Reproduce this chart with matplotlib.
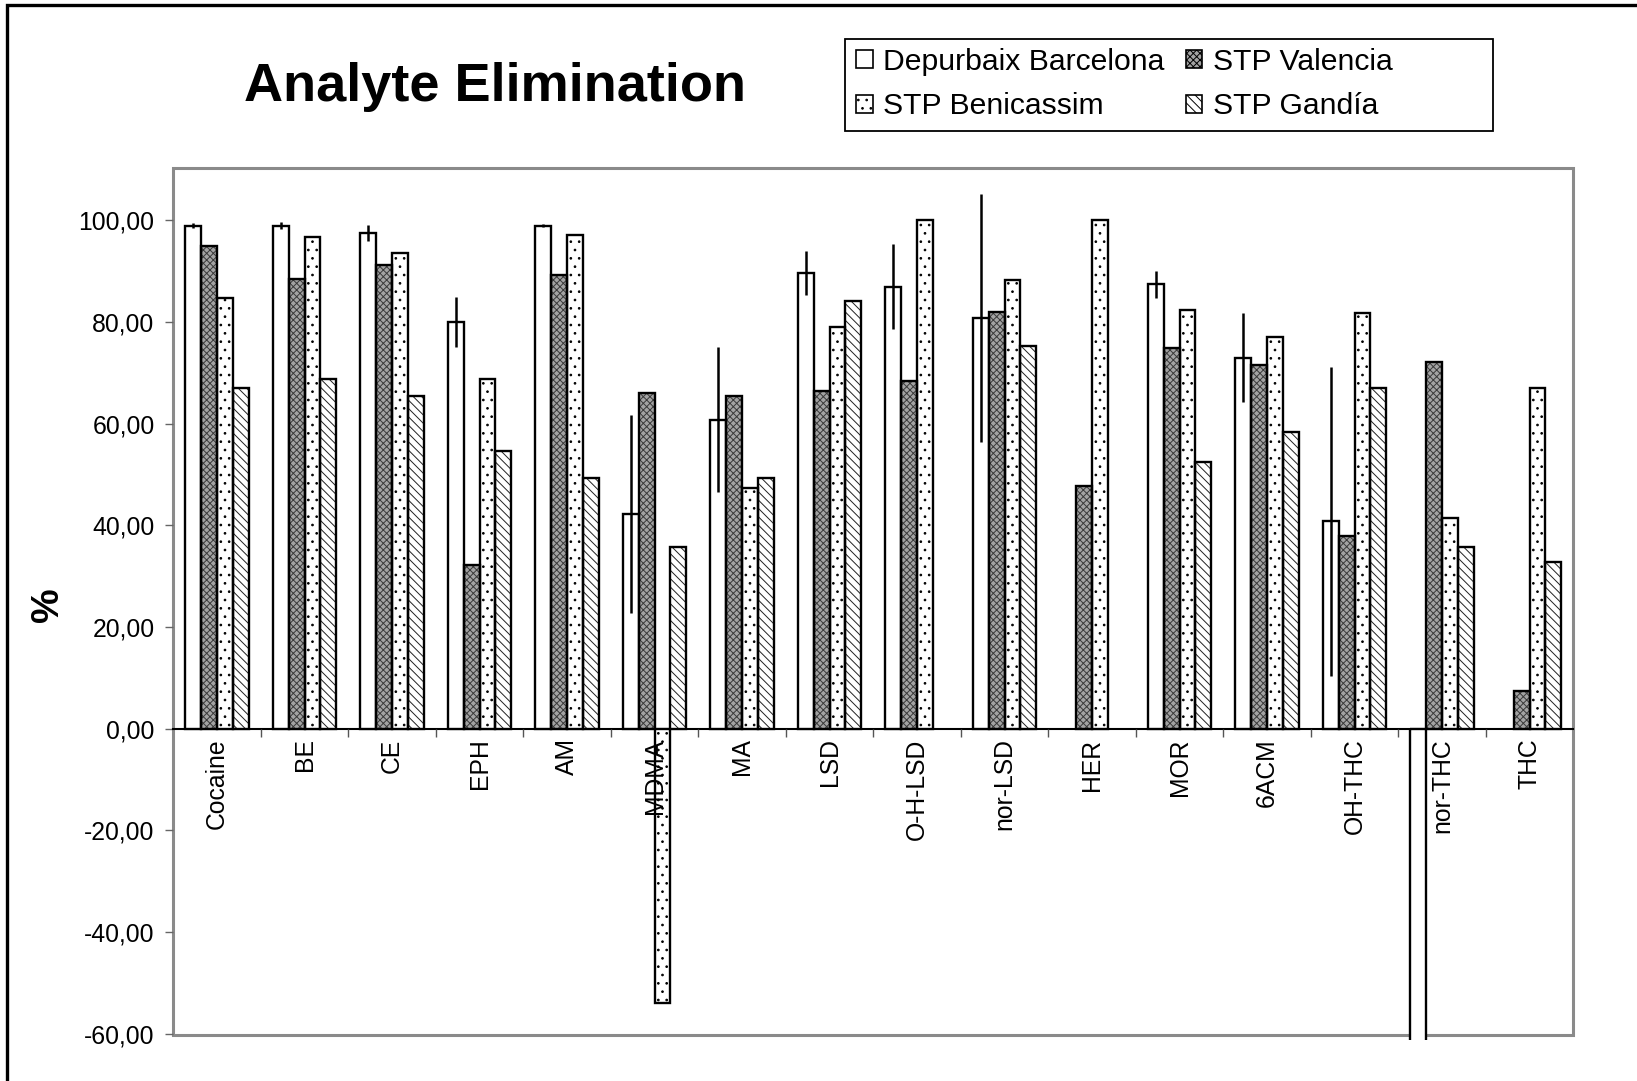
import numpy as np
import matplotlib
matplotlib.use("Agg")
import matplotlib.pyplot as plt
from matplotlib.patches import Rectangle, Patch
from matplotlib.ticker import FuncFormatter, FixedLocator
from matplotlib.transforms import Bbox, TransformedBbox

# ---------------- data ----------------
categories = ["Cocaine", "BE", "CE", "EPH", "AM", "MDMA", "MA", "LSD", "O-H-LSD",
              "nor-LSD", "HER", "MOR", "6ACM", "OH-THC", "nor-THC", "THC"]
series_names = ["Depurbaix Barcelona", "STP Valencia", "STP Benicassim", "STP Gandía"]

barcelona = [99.0, 99.0, 97.6, 80.0, 99.0, 42.3, 60.8, 89.7, 87.0, 80.9,
             np.nan, 87.4, 73.0, 40.8, -100.0, np.nan]
barcelona_err = [0.5, 0.7, 1.6, 5.0, 0.3, 19.5, 14.3, 4.3, 8.3, 24.4,
                 np.nan, 2.7, 8.7, 30.4, np.nan, np.nan]
valencia = [94.9, 88.5, 91.3, 32.3, 89.3, 66.0, 65.5, 66.4, 68.4, 81.9,
            47.8, 74.9, 71.6, 38.0, 72.1, 7.4]
benicassim = [84.7, 96.8, 93.5, 68.8, 97.2, -54.0, 47.3, 79.1, 100.0, 88.3,
              100.0, 82.3, 77.1, 81.8, 41.4, 67.0]
gandia = [67.0, 68.8, 65.5, 54.7, 49.3, 35.7, 49.3, 84.1, np.nan, 75.2,
          np.nan, 52.4, 58.4, 67.0, 35.7, 32.8]

yticks = [-60, -40, -20, 0, 20, 40, 60, 80, 100]

# ---------------- style ----------------
plt.rcParams['font.family'] = ['Liberation Sans', 'DejaVu Sans']
plt.rcParams['hatch.linewidth'] = 0.7

W, H = 1637, 1081
fig = plt.figure(figsize=(W / 100, H / 100), dpi=100)
ax = fig.add_axes([173.3 / W, 1 - 1034.6 / H, (1573.3 - 173.3) / W, (1034.6 - 168.1) / H])

x = np.arange(len(categories))
bw = 1.0 / 5.5
edge_lw = 1.7

styles = [
    dict(face="white", hatch=None, hcol="black"),
    dict(face="#a3a3a3", hatch="xxxxx", hcol="#3a3a3a"),
    dict(face="white", hatch="..", hcol="black"),
    dict(face="white", hatch="\\\\\\\\", hcol="#222222"),
]
data = [barcelona, valencia, benicassim, gandia]

clip_box = TransformedBbox(Bbox([[0, -0.0065], [1, 1]]), ax.transAxes)

for i, (vals, st) in enumerate(zip(data, styles)):
    pos = x + (i - 1.5) * bw
    b1 = ax.bar(pos, vals, bw, color=st["face"], hatch=st["hatch"],
                edgecolor=st["hcol"], linewidth=0, zorder=3)
    b2 = ax.bar(pos, vals, bw, fill=False, edgecolor="black",
                linewidth=edge_lw, zorder=4)
    for p in list(b1) + list(b2):
        p.set_clip_box(clip_box)
    if i == 0:
        ax.errorbar(pos, vals, yerr=barcelona_err, fmt="none", ecolor="black",
                    elinewidth=1.8, capsize=0, zorder=5)

ax.set_xlim(-0.5, len(categories) - 0.5)
ax.set_ylim(-60.2, 110.3)

# axes frame (grey plot area)
for s in ["left", "top", "right"]:
    ax.spines[s].set_visible(False)
ax.add_patch(Rectangle((0, 0), 1, 1, transform=ax.transAxes, fill=False,
                       edgecolor="#8a8a8a", linewidth=2.2, zorder=1, clip_on=False))

# category axis at zero
ax.spines["bottom"].set_position(("data", 0))
ax.spines["bottom"].set_color("black")
ax.spines["bottom"].set_linewidth(1.5)
ax.spines["bottom"].set_zorder(2)
ax.set_xticks(x)
ax.set_xticklabels(categories, rotation=90, va="top", ha="center", fontsize=17.8)
ax.tick_params(axis="x", which="major", length=0, pad=7)
ax.xaxis.set_minor_locator(FixedLocator(np.arange(0.5, len(categories) - 1, 1.0)))
ax.tick_params(axis="x", which="minor", length=5.5, width=1.0, color="#555555",
               direction="out")
ax.xaxis.set_zorder(6)

ax.set_yticks(yticks)
ax.yaxis.set_major_formatter(FuncFormatter(lambda v, p: f"{v:.2f}".replace(".", ",")))
ax.tick_params(axis="y", length=5.5, width=1.0, color="#666666", direction="out",
               labelsize=17.8, pad=8)

# titles
fig.text(495 / W, 1 - 87.5 / H, "Analyte Elimination", fontsize=39, fontweight="bold",
         ha="center", va="center")
fig.text(48 / W, 1 - 605 / H, "%", fontsize=28, fontweight="bold", rotation=90,
         ha="center", va="center")

# legend (frame drawn separately to match the fixed Excel legend box)
fig.add_artist(Rectangle((844.6 / W, 1 - 130.5 / H), (1493 - 844.6) / W,
                         (130.5 - 38.6) / H, transform=fig.transFigure,
                         facecolor="white", edgecolor="black", linewidth=1.3, zorder=2))
handles = [Patch(facecolor=st["face"], hatch=st["hatch"], edgecolor="black",
                 linewidth=1.2) for st in styles]
order = [0, 2, 1, 3]
leg = fig.legend([handles[k] for k in order], [series_names[k] for k in order],
                 ncol=2, loc="upper left", bbox_to_anchor=(856 / W, 1 - 47.5 / H),
                 fontsize=21.7, frameon=False,
                 handlelength=0.55, handleheight=0.55, handletextpad=0.35,
                 columnspacing=0.7, labelspacing=0.56, borderpad=0,
                 borderaxespad=0)
leg.set_zorder(3)

# outer chart border
fig.add_artist(Rectangle((7 / W, -1), 2, 1 - 5 / H + 1, transform=fig.transFigure,
                         fill=False, edgecolor="black", linewidth=2.4))

fig.savefig("out.png", dpi=100)
